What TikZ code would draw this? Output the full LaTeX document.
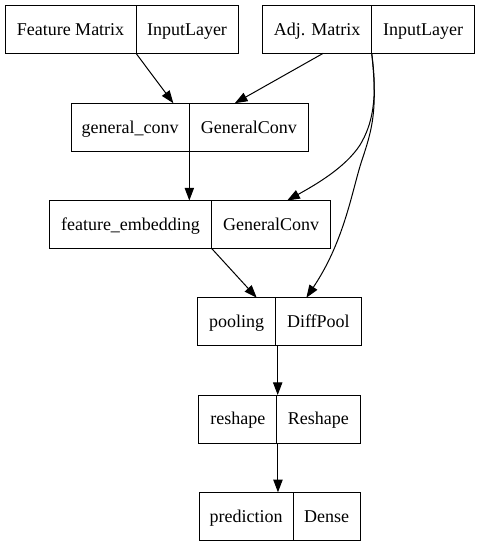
\documentclass[tikz,border=0pt]{standalone}
\usepackage{fontspec}
\setmainfont{Liberation Serif}
\usepackage{tikz}
\usetikzlibrary{calc,positioning,arrows.meta}

\tikzset{
	cell/.style={draw, line width=0.75pt, outer sep=0pt, inner sep=0pt, minimum height=36pt,
		font=\fontsize{13.5}{16}\selectfont, text height=11pt, text depth=2.1pt},
	edge/.style={line width=0.75pt, -{Triangle[length=9.5pt,width=7pt]}}
}

\begin{document}
\begin{tikzpicture}[x=0.75pt, y=-0.75pt]
			%%%%% START %%%%%
			\useasboundingbox (0, 0) rectangle (480, 547);
			
			\node[cell, minimum width=98.25pt] (fmN) at (70.5, 29.3) {Feature Matrix};
			\node[cell, minimum width=76.5pt, right=0pt of fmN] (fmT) {InputLayer};
			
			\node[cell, minimum width=81.75pt] (amN) at (317.2, 29.3) {Adj. Matrix};
			\node[cell, minimum width=76.95pt, right=0pt of amN] (amT) {InputLayer};
			
			\node[cell, minimum width=88.7pt] (gcN) at (130.2, 127.2) {general\_conv};
			\node[cell, minimum width=89.25pt, right=0pt of gcN] (gcT) {GeneralConv};
			
			\node[cell, minimum width=121.8pt] (feN) at (130.5, 224.5) {feature\_embedding};
			\node[cell, minimum width=89.25pt, right=0pt of feN] (feT) {GeneralConv};
			
			\node[cell, minimum width=58.5pt] (plN) at (236.7, 321.7) {pooling};
			\node[cell, minimum width=64pt, right=0pt of plN] (plT) {DiffPool};
			
			\node[cell, minimum width=58.3pt] (rsN) at (237.8, 419) {reshape};
			\node[cell, minimum width=62.5pt, right=0pt of rsN] (rsT) {Reshape};
			
			\node[cell, minimum width=70.7pt] (prN) at (246.2, 516.3) {prediction};
			\node[cell, minimum width=50pt, right=0pt of prN] (prT) {Dense};
			
			\draw[edge] (fmN.south east) -- ($(gcN.north east)+(-16, 0)$);
			\draw[edge] ($(amN.south)+(6, 0)$) -- ($(gcT.north)+(-14, 0)$);
			\draw[edge] (gcN.south east) -- (gcN.south east |- feN.north);
			
			\draw[edge] (amN.south east) .. controls (378, 100) and (372, 125) .. (360, 145)
				.. controls (345, 168) and (315, 185) .. ($(feT.north)+(16, 0)$);
			\draw[edge] (amN.south east) .. controls (378, 110) and (372, 130) .. (362, 160)
				.. controls (352, 190) and (345, 240) .. ($(plT.north)+(-12, 0)$);
			
			\draw[edge] (feN.south east) -- ($(plN.north)+(20, 0)$);
			
			\coordinate (p1) at ($(plN.south east)+(2, 0)$);
			\draw[edge] (p1) -- (p1 |- rsN.north);
			\coordinate (p2) at ($(rsN.south east)+(1.3, 0)$);
			\draw[edge] (p2) -- (p2 |- prN.north);
			
			%%%%% END %%%%%
\end{tikzpicture}
\end{document}
